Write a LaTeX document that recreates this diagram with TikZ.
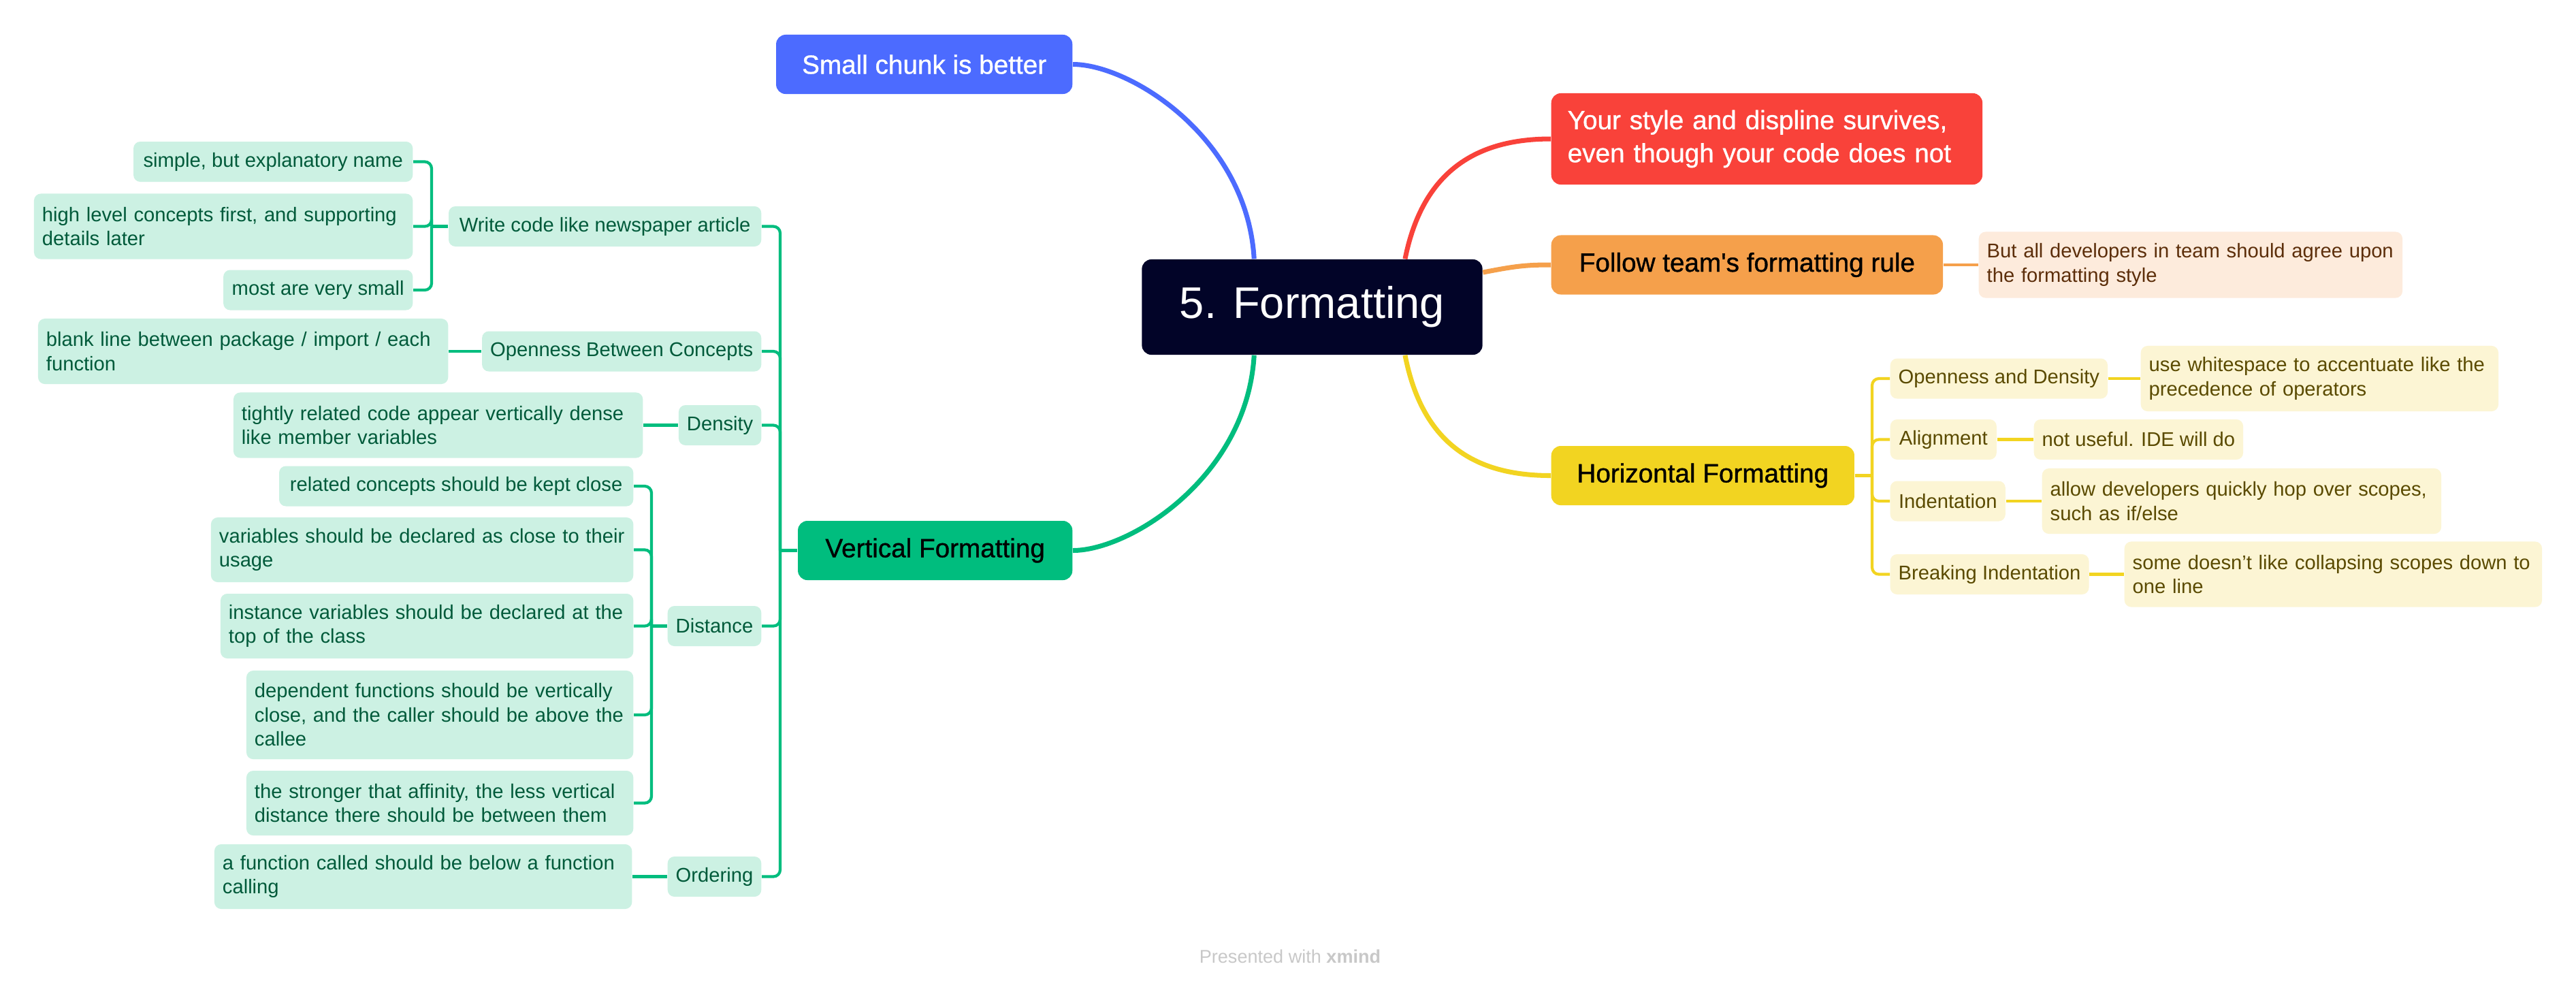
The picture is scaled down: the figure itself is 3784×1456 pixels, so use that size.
\documentclass[tikz,border=0pt]{standalone}
\usepackage{fontspec}
\setmainfont{Liberation Sans}
\newfontfamily\topicfont[FakeBold=0.9]{Liberation Sans}
\usetikzlibrary{calc}
\definecolor{topicnavy}{RGB}{2,4,40}
\definecolor{mapblue}{RGB}{76,107,255}
\definecolor{mapred}{RGB}{249,66,58}
\definecolor{maporange}{RGB}{245,160,75}
\definecolor{orangepale}{RGB}{253,235,220}
\definecolor{orangetext}{RGB}{92,46,10}
\definecolor{mapyellow}{RGB}{242,212,33}
\definecolor{yellowpale}{RGB}{252,245,212}
\definecolor{yellowtext}{RGB}{90,74,0}
\definecolor{mapgreen}{RGB}{0,189,126}
\definecolor{greenpale}{RGB}{204,241,227}
\definecolor{greentext}{RGB}{0,90,58}
\definecolor{footgray}{RGB}{200,200,200}
\begin{document}
\begin{tikzpicture}[x=0.01cm,y=-0.01cm,
  box/.style={rounded corners=0.1cm, inner xsep=0.12cm, inner ysep=0pt, align=left},
  big/.style={box, rounded corners=0.14cm, inner xsep=0.36cm, minimum height=0.87cm,
    font=\topicfont\fontsize{11}{13.8}\selectfont},
  gleaf/.style={box, fill=greenpale, text=greentext, minimum height=0.59cm,
    font=\fontsize{8.3}{10.1}\selectfont},
  yleaf/.style={gleaf, fill=yellowpale, text=yellowtext},
  oleaf/.style={gleaf, fill=orangepale, text=orangetext},
  branch/.style={line width=2pt},
  gline/.style={mapgreen, line width=1.2pt, rounded corners=0.1cm},
  yline/.style={gline, draw=mapyellow},
  oline/.style={gline, draw=maporange}]
\path[fill=white] (0,0) rectangle (3784,1456);

\node[fill=topicnavy, text=white, rounded corners=0.14cm, minimum width=5.00cm, minimum height=1.40cm,
  font=\fontsize{18.5}{22}\selectfont] (fmt) at (1927.5,451) {5. Formatting};

\node[big, fill=mapblue, text=white, anchor=east, minimum width=4.35cm] (scb) at (1576,94.5) {Small chunk is better};
\node[big, fill=mapred, text=white, anchor=west, inner xsep=0.24cm, text width=5.85cm, minimum height=1.34cm] (sdl) at (2278,204)
  {Your style and displine survives,\\even though your code does not};
\node[big, fill=maporange, anchor=west, minimum width=5.75cm] (ftr) at (2278,389) {Follow team's formatting rule};
\node[oleaf, anchor=west, text width=5.98cm, minimum height=0.97cm] (ftr1) at (2906,389)
  {But all developers in team should agree upon\\the formatting style};
\node[big, fill=mapyellow, anchor=west, minimum width=4.45cm] (hf) at (2278,698.5) {Horizontal Formatting};
\node[big, fill=mapgreen, anchor=east, minimum width=4.03cm] (vf) at (1576,808.5) {Vertical Formatting};

\node[yleaf, anchor=west, minimum width=3.15cm] (od) at (2776,556) {Openness and Density};
\node[yleaf, anchor=west, text width=5.01cm, minimum height=0.96cm] (od1) at (3144,556)
  {use whitespace to accentuate like the\\precedence of operators};
\node[yleaf, anchor=west, minimum width=1.56cm] (al) at (2776,645.5) {Alignment};
\node[yleaf, anchor=west, minimum width=3.04cm] (al1) at (2987,645.5) {not useful. IDE will do};
\node[yleaf, anchor=west, minimum width=1.69cm] (ind) at (2776,736) {Indentation};
\node[yleaf, anchor=west, text width=5.62cm, minimum height=0.96cm] (ind1) at (2999,736)
  {allow developers quickly hop over scopes,\\such as if/else};
\node[yleaf, anchor=west, minimum width=2.90cm] (bi) at (2776,843.5) {Breaking Indentation};
\node[yleaf, anchor=west, text width=5.89cm, minimum height=0.96cm] (bi1) at (3120,843.5)
  {some doesn't like collapsing scopes down to\\one line};

\node[gleaf, anchor=east, minimum width=4.59cm] (wc) at (1119,332.5) {Write code like newspaper article};
\node[gleaf, anchor=east, minimum width=4.10cm] (wc1) at (607,237.5) {simple, but explanatory name};
\node[gleaf, anchor=east, text width=5.32cm, minimum height=0.96cm] (wc2) at (607,332.5)
  {high level concepts first, and supporting\\details later};
\node[gleaf, anchor=east, minimum width=2.78cm] (wc3) at (607,426) {most are very small};
\node[gleaf, anchor=east, minimum width=4.06cm] (obc) at (1119,516) {Openness Between Concepts};
\node[gleaf, anchor=east, text width=5.78cm, minimum height=0.96cm] (obc1) at (659,516)
  {blank line between package / import / each\\function};
\node[gleaf, anchor=east, minimum width=1.20cm] (den) at (1119,624.5) {Density};
\node[gleaf, anchor=east, text width=5.77cm, minimum height=0.96cm] (den1) at (945,624.5)
  {tightly related code appear vertically dense\\like member variables};
\node[gleaf, anchor=east, minimum width=1.34cm] (dist) at (1119,919.5) {Distance};
\node[gleaf, anchor=east, minimum width=5.20cm] (dist1) at (931,714) {related concepts should be kept close};
\node[gleaf, anchor=east, text width=5.96cm, minimum height=0.95cm] (dist2) at (931,807.5)
  {variables should be declared as close to their\\usage};
\node[gleaf, anchor=east, text width=5.82cm, minimum height=0.95cm] (dist3) at (931,919.5)
  {instance variables should be declared at the\\top of the class};
\node[gleaf, anchor=east, text width=5.44cm, minimum height=1.30cm] (dist4) at (931,1050)
  {dependent functions should be vertically\\close, and the caller should be above the\\callee};
\node[gleaf, anchor=east, text width=5.44cm, minimum height=0.95cm] (dist5) at (931,1179.5)
  {the stronger that affinity, the less vertical\\distance there should be between them};
\node[gleaf, anchor=east, minimum width=1.36cm] (ord) at (1119,1287.5) {Ordering};
\node[gleaf, anchor=east, text width=5.89cm, minimum height=0.95cm] (ord1) at (929,1287.5)
  {a function called should be below a function\\calling};

\node[text=footgray, font=\fontsize{7.7}{9}\selectfont] (credit) at (1895,1405) {Presented with \textbf{xmind}};

\draw[branch, mapblue] ($(fmt.north west)!0.33!(fmt.north east)$) .. controls (1832,202) and (1660,94.5) .. (scb.east);
\draw[branch, mapred] ($(fmt.north west)!0.772!(fmt.north east)$) .. controls (2090,250) and (2170,204) .. (sdl.west);
\draw[branch, maporange] ($(fmt.north east)!0.14!(fmt.south east)$) .. controls (2225,391) and (2240,389) .. (ftr.west);
\draw[branch, mapyellow] ($(fmt.south west)!0.772!(fmt.south east)$) .. controls (2090,655) and (2170,698.5) .. (hf.west);
\draw[branch, mapgreen] ($(fmt.south west)!0.33!(fmt.south east)$) .. controls (1832,700) and (1660,808.5) .. (vf.east);

\draw[oline] (ftr.east) -- (ftr1.west);

\coordinate (hfT) at (2750,698.5);
\draw[yline] (hf.east) -- (hfT);
\foreach \c in {od,al,ind,bi} \draw[yline] (hfT) |- (\c.west);
\foreach \c in {od,al,ind,bi} \draw[yline] (\c.east) -- (\c1.west);

\coordinate (vfT) at (1146,808.5);
\draw[gline] (vf.west) -- (vfT);
\foreach \c in {wc,obc,den,dist,ord} \draw[gline] (vfT) |- (\c.east);

\coordinate (wcT) at (634,332.5);
\draw[gline] (wc.west) -- (wcT);
\foreach \c in {wc1,wc2,wc3} \draw[gline] (wcT) |- (\c.east);

\draw[gline] (obc.west) -- (obc1.east);
\draw[gline] (den.west) -- (den1.east);
\draw[gline] (ord.west) -- (ord1.east);

\coordinate (distT) at (957,919.5);
\draw[gline] (dist.west) -- (distT);
\foreach \c in {dist1,dist2,dist3,dist4,dist5} \draw[gline] (distT) |- (\c.east);
\end{tikzpicture}
\end{document}
